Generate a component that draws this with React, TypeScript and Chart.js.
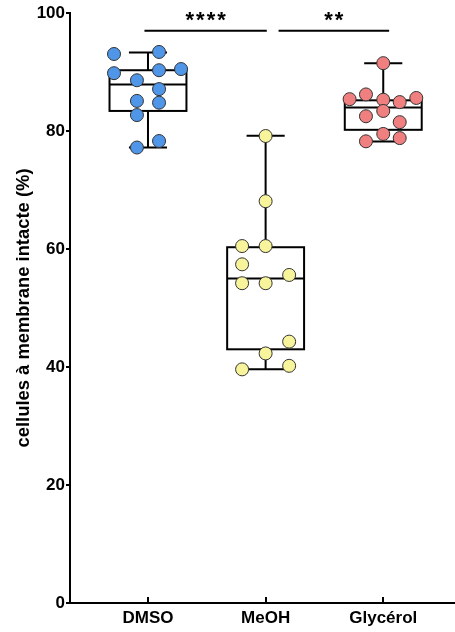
import React, { useEffect, useRef } from "react";
import { Chart, registerables } from "chart.js";

Chart.register(...registerables);

// ---- Data ----
const categories = ["DMSO", "MeOH", "Glycérol"];

const dmsoValues = [93.05, 93.4, 90.3, 90.5, 89.8, 88.6, 87.1, 85.1, 84.8, 82.7, 77.2, 78.3];
const meohValues = [79.15, 68.1, 60.5, 60.5, 57.4, 54.2, 54.2, 55.6, 44.3, 42.3, 39.6, 40.2];
const glycerolValues = [91.5, 85.4, 86.2, 85.3, 84.9, 85.6, 83.4, 82.5, 81.5, 79.5, 78.8, 78.25];

// horizontal scatter offsets of each point (in category units)
const dmsoJitter = [-0.289, 0.094, 0.094, 0.281, -0.289, -0.094, 0.094, -0.094, 0.094, -0.094, -0.094, 0.094];
const meohJitter = [0, 0, -0.2, 0, -0.2, -0.2, 0, 0.2, 0.2, 0, -0.2, 0.2];
const glycerolJitter = [0, -0.286, -0.147, 0, 0.14, 0.281, 0, -0.147, 0.14, 0, 0.14, -0.147];

// box plot statistics per category
const boxMin = [77.2, 39.6, 78.2];
const boxQ1 = [83.4, 43.0, 80.2];
const boxMedian = [87.9, 55.0, 84.0];
const boxQ3 = [90.3, 60.3, 85.2];
const boxMax = [93.3, 79.2, 91.5];

// significance comparisons
const sigLabels = ["****", "**"];
const sigFrom = [-0.03, 1.11];
const sigTo = [1.01, 2.05];
const sigY = [97, 97];

const yTicks = [0, 20, 40, 60, 80, 100];

const groupValues = [dmsoValues, meohValues, glycerolValues];
const groupJitter = [dmsoJitter, meohJitter, glycerolJitter];
const groupColors = ["#4f95e8", "#f8f49c", "#f08080"];

const FONT = "'Liberation Sans', Arial, Helvetica, sans-serif";

const boxPlugin = {
  id: "boxPlugin",
  beforeDatasetsDraw(chart: any) {
    const { ctx, scales } = chart;
    const xs = scales.x;
    const ys = scales.y;
    ctx.save();
    ctx.strokeStyle = "#000";
    ctx.lineWidth = 2;
    for (let i = 0; i < categories.length; i++) {
      const xl = xs.getPixelForValue(i - 0.327);
      const xr = xs.getPixelForValue(i + 0.327);
      const xc = xs.getPixelForValue(i);
      const cl = xs.getPixelForValue(i - 0.162);
      const cr = xs.getPixelForValue(i + 0.162);
      const yMin = ys.getPixelForValue(boxMin[i]);
      const yQ1 = ys.getPixelForValue(boxQ1[i]);
      const yMed = ys.getPixelForValue(boxMedian[i]);
      const yQ3 = ys.getPixelForValue(boxQ3[i]);
      const yMax = ys.getPixelForValue(boxMax[i]);
      // whiskers
      ctx.beginPath();
      ctx.moveTo(xc, yQ3);
      ctx.lineTo(xc, yMax);
      ctx.moveTo(cl, yMax);
      ctx.lineTo(cr, yMax);
      ctx.moveTo(xc, yQ1);
      ctx.lineTo(xc, yMin);
      ctx.moveTo(cl, yMin);
      ctx.lineTo(cr, yMin);
      ctx.stroke();
      // box
      ctx.fillStyle = "#fff";
      ctx.fillRect(xl, yQ3, xr - xl, yQ1 - yQ3);
      ctx.strokeRect(xl, yQ3, xr - xl, yQ1 - yQ3);
      // median
      ctx.beginPath();
      ctx.moveTo(xl, yMed);
      ctx.lineTo(xr, yMed);
      ctx.stroke();
    }
    ctx.restore();
  },
  afterDraw(chart: any) {
    const { ctx, scales, chartArea } = chart;
    const xs = scales.x;
    const ys = scales.y;
    ctx.save();
    ctx.strokeStyle = "#000";
    ctx.lineWidth = 2;
    // inward x ticks
    ctx.beginPath();
    for (let i = 0; i < categories.length; i++) {
      const x = Math.round(xs.getPixelForValue(i));
      ctx.moveTo(x, chartArea.bottom);
      ctx.lineTo(x, chartArea.bottom - 6);
    }
    ctx.stroke();
    // significance bars
    for (let k = 0; k < sigLabels.length; k++) {
      const x1 = xs.getPixelForValue(sigFrom[k]);
      const x2 = xs.getPixelForValue(sigTo[k]);
      const y = ys.getPixelForValue(sigY[k]);
      ctx.beginPath();
      ctx.moveTo(x1, y);
      ctx.lineTo(x2, y);
      ctx.stroke();
      ctx.fillStyle = "#000";
      ctx.font = `bold 22px ${FONT}`;
      (ctx as any).letterSpacing = "2px";
      ctx.textAlign = "center";
      ctx.textBaseline = "alphabetic";
      ctx.fillText(sigLabels[k], (x1 + x2) / 2 + 1, y - 4);
    }
    ctx.restore();
  },
};

export default function App() {
  const canvasRef = useRef<HTMLCanvasElement | null>(null);

  useEffect(() => {
    if (!canvasRef.current) return;
    const datasets = groupValues.map((vals, g) => ({
      label: categories[g],
      data: vals.map((v, j) => ({ x: g + groupJitter[g][j], y: v })),
      backgroundColor: groupColors[g],
      borderColor: "#333",
      borderWidth: 1,
      pointRadius: 6.5,
      pointHoverRadius: 6.5,
    }));

    const chart = new Chart(canvasRef.current, {
      type: "scatter",
      data: { datasets },
      plugins: [boxPlugin],
      options: {
        responsive: false,
        animation: false,
        layout: { autoPadding: false, padding: { top: 13, left: 0, right: 0, bottom: 0 } },
        plugins: {
          legend: { display: false },
          tooltip: { enabled: false },
          title: { display: false },
        },
        scales: {
          x: {
            type: "linear",
            min: -0.663,
            max: 2.61,
            afterBuildTicks: (scale: any) => {
              scale.ticks = categories.map((_, i) => ({ value: i }));
            },
            afterFit: (scale: any) => {
              scale.height = 29;
              scale.paddingLeft = 0;
              scale.paddingRight = 0;
            },
            ticks: {
              autoSkip: false,
              maxRotation: 0,
              color: "#000",
              font: { family: FONT, size: 17, weight: "bold" },
              padding: 5,
              callback: (v: any) => categories[v as number] ?? "",
            },
            grid: { drawOnChartArea: false, drawTicks: false },
            border: { color: "#000", width: 2 },
          },
          y: {
            min: 0,
            max: 100,
            afterBuildTicks: (scale: any) => {
              scale.ticks = yTicks.map((v) => ({ value: v }));
            },
            afterFit: (scale: any) => {
              scale.width = 70;
            },
            ticks: {
              color: "#000",
              font: { family: FONT, size: 17, weight: "bold" },
              padding: 1,
            },
            grid: {
              drawOnChartArea: false,
              drawTicks: true,
              tickLength: 4,
              tickColor: "#000",
              lineWidth: 2,
            },
            border: { color: "#000", width: 2 },
            title: {
              display: true,
              text: "cellules à membrane intacte (%)",
              color: "#000",
              font: { family: FONT, size: 18.4, weight: "bold" },
              padding: { top: 13, bottom: 0 },
            },
          },
        },
      },
    });
    return () => chart.destroy();
  }, []);

  return (
    <div style={{ position: "absolute", left: 0, top: 0, width: 455, height: 632 }}>
      <canvas ref={canvasRef} width={455} height={632} style={{ width: 455, height: 632 }} />
    </div>
  );
}
